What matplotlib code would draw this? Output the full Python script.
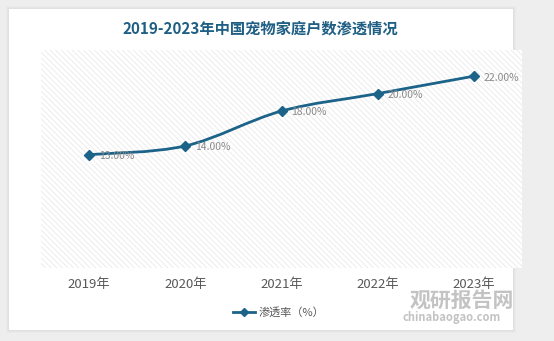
import matplotlib.pyplot as plt
import numpy as np
from matplotlib.patches import Rectangle
from matplotlib.path import Path
from matplotlib.patches import PathPatch

plt.rcParams['font.family'] = ['Noto Sans CJK SC', 'DejaVu Sans']

years = ["2019年", "2020年", "2021年", "2022年", "2023年"]
rate = [13, 14, 18, 20, 22]
value_labels = ["13.00%", "14.00%", "18.00%", "20.00%", "22.00%"]

line_color = "#1b6388"
W, H = 554, 341

fig = plt.figure(figsize=(W / 100, H / 100), dpi=100)
fig.patch.set_facecolor("#eeeeee")

# white card with a faint shadow
bg = fig.add_axes([0, 0, 1, 1])
bg.set_xlim(0, W)
bg.set_ylim(H, 0)
bg.axis("off")
for i, a in enumerate([0.04, 0.05, 0.06]):
    bg.add_patch(Rectangle((9 - 3 + i, 9 - 3 + i), 504 + 6 - 2 * i, 321 + 6 - 2 * i,
                           facecolor="#999999", edgecolor="none", alpha=a))
bg.add_patch(Rectangle((9, 9), 504, 321, facecolor="white", edgecolor="none"))

fig.text(260 / W, 1 - 29 / H, "2019-2023年中国宠物家庭户数渗透情况", ha="center", va="center",
         fontsize=11, fontweight="bold", color="#1f5f84")

# plot area
x0, x1, y0, y1 = 41, 522, 50, 268
ax = fig.add_axes([x0 / W, 1 - y1 / H, (x1 - x0) / W, (y1 - y0) / H])
plt.rcParams['hatch.linewidth'] = 0.5
ax.set_facecolor("white")
ax.add_patch(Rectangle((0, 0), 1, 1, transform=ax.transAxes, facecolor="white",
                       edgecolor="#e6e6e6", hatch="\\\\\\\\\\\\", linewidth=0, zorder=0))
ax.set_xlim(-0.5, 4.5)
ax.set_ylim(0, 25)
for s in ax.spines.values():
    s.set_visible(False)
ax.set_yticks([])
ax.set_xticks(range(len(years)))
ax.set_xticklabels(years, fontsize=9.5, color="#595959")
ax.tick_params(axis="x", length=0, pad=7)

# smooth curve through the points (Catmull-Rom as cubic Bezier)
xs = np.arange(len(rate), dtype=float)
ys = np.array(rate, dtype=float)
pts = np.column_stack([xs, ys])
verts = [pts[0]]
codes = [Path.MOVETO]
for i in range(len(pts) - 1):
    p0 = pts[i - 1] if i > 0 else pts[i]
    p1, p2 = pts[i], pts[i + 1]
    p3 = pts[i + 2] if i + 2 < len(pts) else pts[i + 1]
    c1 = p1 + (p2 - p0) / 6
    c2 = p2 - (p3 - p1) / 6
    verts += [c1, c2, p2]
    codes += [Path.CURVE4] * 3
ax.add_patch(PathPatch(Path(verts, codes), facecolor="none", edgecolor=line_color,
                       linewidth=2, zorder=3))
ax.plot(xs, ys, linestyle="none", marker="D", markersize=5, color=line_color, zorder=4)

for x, y, t in zip(xs, ys, value_labels):
    ax.annotate(t, (x, y), xytext=(7, -1), textcoords="offset points", ha="left", va="center",
                fontsize=7.5, color="#8a8a8a", zorder=5)

# legend
fig.add_artist(plt.Line2D([233 / W, 255 / W], [1 - 312 / H] * 2, color=line_color, linewidth=2))
fig.add_artist(plt.Line2D([244 / W], [1 - 312 / H], marker="D", markersize=4, color=line_color))
fig.text(259 / W, 1 - 312 / H, "渗透率（%）", ha="left", va="center", fontsize=8, color="#595959")

# watermark
fig.text(462 / W, 1 - 300 / H, "观研报告网", ha="center", va="center", fontsize=15,
         fontweight="bold", color="#b5b5b5", alpha=0.8)
fig.text(452 / W, 1 - 318 / H, "chinabaogao.com", ha="center", va="center", fontsize=8,
         fontweight="bold", color="#b5b5b5", alpha=0.8)

fig.savefig("out.png", dpi=100, facecolor=fig.get_facecolor())
